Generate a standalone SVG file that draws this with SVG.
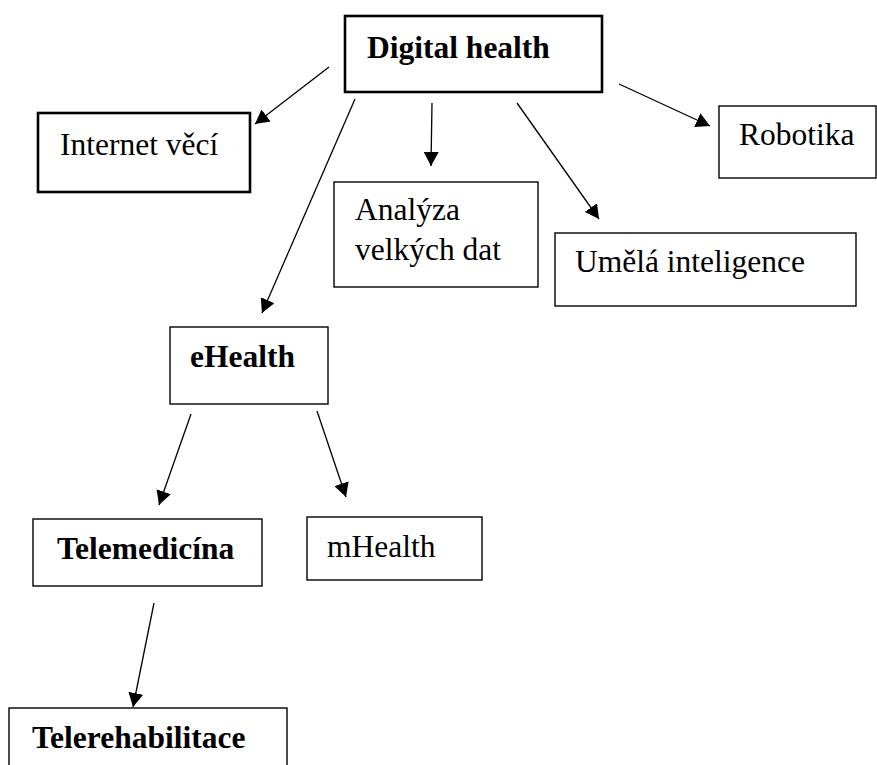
<svg xmlns="http://www.w3.org/2000/svg" width="877" height="765" viewBox="0 0 877 765">
<style>
.box{fill:#fff;stroke:#000;stroke-width:1.4}
.thick{stroke-width:2.6}
.t{font-family:"Liberation Serif","Times New Roman",serif;font-size:31.5px;fill:#000}
.b{font-weight:bold}
.c{stroke:#000;stroke-width:1.3;fill:none;marker-end:url(#ah)}
</style>
<defs>
<marker id="ah" viewBox="0 0 14 15" markerWidth="14" markerHeight="15" refX="14" refY="7.5" orient="auto" markerUnits="userSpaceOnUse">
<path d="M0,0 L14,7.5 L0,15 z" fill="#000"/>
</marker>
</defs>
<rect width="877" height="765" fill="#fff"/>
<g id="digital-health"><rect class="box thick" x="345" y="16" width="257" height="76"/><text class="t b" x="367" y="58">Digital health</text></g>
<g id="internet-veci"><rect class="box thick" x="38" y="113" width="212" height="79"/><text class="t" x="60" y="155">Internet věcí</text></g>
<g id="analyza"><rect class="box" x="334" y="182" width="204" height="105"/><text class="t" x="355" y="220">Analýza</text><text class="t" x="355" y="260">velkých dat</text></g>
<g id="robotika"><rect class="box" x="719" y="106" width="157" height="72"/><text class="t" x="739" y="145">Robotika</text></g>
<g id="umela-inteligence"><rect class="box" x="555" y="233" width="301" height="73"/><text class="t" x="575" y="272">Umělá inteligence</text></g>
<g id="ehealth"><rect class="box" x="170" y="327" width="158" height="77"/><text class="t b" x="190" y="367">eHealth</text></g>
<g id="telemedicina"><rect class="box" x="33" y="519" width="229" height="67"/><text class="t b" x="57" y="559">Telemedicína</text></g>
<g id="mhealth"><rect class="box" x="307" y="517" width="175" height="63"/><text class="t" x="327" y="557">mHealth</text></g>
<g id="telerehabilitace"><rect class="box" x="9" y="708" width="278" height="70"/><text class="t b" x="32" y="748">Telerehabilitace</text></g>
<g id="connectors">
<line class="c" x1="329" y1="67" x2="255" y2="124"/>
<line class="c" x1="355" y1="99" x2="262" y2="313"/>
<line class="c" x1="432" y1="103" x2="431" y2="166"/>
<line class="c" x1="517" y1="103" x2="599" y2="219"/>
<line class="c" x1="619" y1="84" x2="710" y2="126"/>
<line class="c" x1="191" y1="414" x2="159" y2="505"/>
<line class="c" x1="317" y1="411" x2="346" y2="497"/>
<line class="c" x1="154" y1="603" x2="133" y2="707"/>
</g>
</svg>
